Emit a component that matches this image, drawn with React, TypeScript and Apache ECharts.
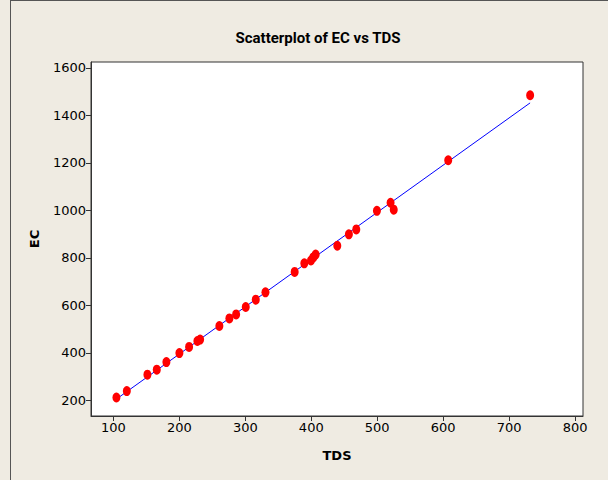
import React, { useEffect, useRef } from "react";
import * as echarts from "echarts";

const tds = [104.5, 120.3, 151.5, 165.7, 180.3, 200, 214.7, 227.3, 231.4, 260.6, 275.8, 286, 300.6, 315.8, 330.5, 374.8, 389.4, 399.5, 403, 406.6, 439.4, 457, 468.2, 499.5, 520.2, 525, 607.6, 731.8];
const ec = [212, 239, 308, 329, 361, 399, 425, 450, 456, 513, 545, 562, 593, 624, 655, 741, 777, 789, 802, 814, 851, 899, 920, 998, 1032, 1003, 1211, 1485];
const xTicks = [100, 200, 300, 400, 500, 600, 700, 800];
const yTicks = [200, 400, 600, 800, 1000, 1200, 1400, 1600];
const titleText = "Scatterplot of EC vs TDS";
const xName = "TDS";
const yName = "EC";

function fitLine(xs: number[], ys: number[]) {
  const n = xs.length;
  const mx = xs.reduce((a, b) => a + b, 0) / n;
  const my = ys.reduce((a, b) => a + b, 0) / n;
  let sxy = 0, sxx = 0;
  for (let i = 0; i < n; i++) {
    sxy += (xs[i] - mx) * (ys[i] - my);
    sxx += (xs[i] - mx) * (xs[i] - mx);
  }
  const b = sxy / sxx;
  const a = my - b * mx;
  const x0 = Math.min(...xs);
  const x1 = Math.max(...xs);
  return [[x0, a + b * x0], [x1, a + b * x1]];
}

export default function App() {
  const ref = useRef<HTMLDivElement>(null);
  useEffect(() => {
    document.body.style.margin = "0";
    const chart = echarts.init(ref.current!, null, { renderer: "svg" });
    const font = "DejaVu Sans";
    chart.setOption({
      animation: false,
      backgroundColor: "#EFEBE2",
      title: {
        text: titleText,
        left: 313,
        textAlign: "center",
        top: 25,
        textStyle: { fontFamily: "Roboto", fontWeight: "bold", fontSize: 15, color: "#000" },
      },
      graphic: [
        { type: "line", shape: { x1: 10.5, y1: 0.5, x2: 608, y2: 0.5 }, style: { stroke: "#555", lineWidth: 1 } },
        { type: "line", shape: { x1: 10.5, y1: 0, x2: 10.5, y2: 480 }, style: { stroke: "#555", lineWidth: 1 } },
      ],
      grid: {
        left: 91,
        top: 62,
        right: 25,
        bottom: 64,
        show: true,
        backgroundColor: "#FFFFFF",
        borderColor: "#333",
        borderWidth: 1,
      },
      xAxis: {
        type: "value",
        min: 66,
        max: 812,
        name: xName,
        nameLocation: "middle",
        nameGap: 33,
        nameTextStyle: { fontFamily: font, fontWeight: "bold", fontSize: 13, color: "#000" },
        axisLine: { show: true, onZero: false, lineStyle: { color: "#333" } },
        axisTick: { show: true, length: 5, customValues: xTicks, lineStyle: { color: "#333" } },
        axisLabel: { customValues: xTicks, formatter: (v: number) => String(v), fontFamily: font, fontSize: 13, color: "#000", margin: 5 },
        splitLine: { show: false },
      },
      yAxis: {
        type: "value",
        min: 134,
        max: 1625,
        name: yName,
        nameLocation: "middle",
        nameGap: 50,
        nameRotate: 90,
        nameTextStyle: { fontFamily: font, fontWeight: "bold", fontSize: 13, color: "#000" },
        axisLine: { show: true, onZero: false, lineStyle: { color: "#333" } },
        axisTick: { show: true, length: 5, customValues: yTicks, lineStyle: { color: "#333" } },
        axisLabel: { customValues: yTicks, formatter: (v: number) => String(v), fontFamily: font, fontSize: 13, color: "#000", margin: 5 },
        splitLine: { show: false },
      },
      series: [
        {
          type: "line",
          data: fitLine(tds, ec),
          symbol: "none",
          lineStyle: { color: "#0000FF", width: 1 },
          z: 2,
        },
        {
          type: "scatter",
          data: tds.map((x, i) => [x, ec[i]]),
          symbol: "circle",
          symbolSize: [8, 10],
          itemStyle: { color: "#FF0000", opacity: 1 },
          z: 3,
        },
      ],
    });
    return () => chart.dispose();
  }, []);
  return <div ref={ref} style={{ position: "absolute", left: 0, top: 0, width: 608, height: 480 }} />;
}
